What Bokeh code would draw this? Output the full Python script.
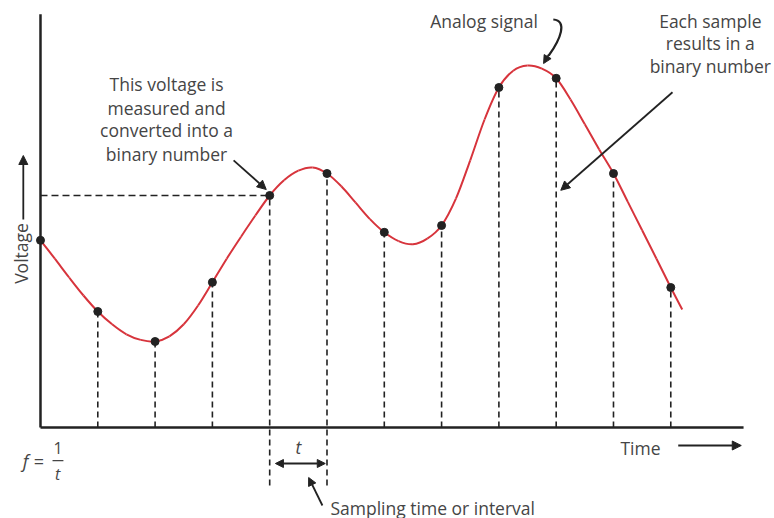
import numpy as np
from bokeh.plotting import figure
from bokeh.models import Range1d, Arrow, NormalHead
from bokeh.core.properties import value
from bokeh.embed import file_html
from bokeh.resources import INLINE

# ---- data (time in sample periods, voltage in arbitrary units) ----
sample_time = [0, 1, 2, 3, 4, 5, 6, 7, 8, 9, 10, 11]
sample_voltage = [4.68, 2.90, 2.15, 3.63, 5.80, 6.35, 4.88, 5.05, 8.50, 8.73, 6.35, 3.50]

curve_time = [0.0, 0.25, 0.5, 0.75, 1.0, 1.25, 1.5, 1.75, 2.0, 2.25, 2.5, 2.75,
              3.0, 3.25, 3.5, 3.75, 4.0, 4.25, 4.5, 4.75, 5.0, 5.25, 5.5, 5.75,
              6.0, 6.25, 6.5, 6.75, 7.0, 7.25, 7.5, 7.75, 8.0, 8.25, 8.5, 8.75,
              9.0, 9.25, 9.5, 9.75, 10.0, 10.25, 10.5, 10.75, 11.0, 11.2]
curve_voltage = [4.68, 4.22, 3.75, 3.30, 2.90, 2.58, 2.33, 2.19, 2.15, 2.28, 2.58, 3.05,
                 3.63, 4.22, 4.77, 5.30, 5.80, 6.18, 6.42, 6.50, 6.35, 6.03, 5.62, 5.21,
                 4.88, 4.66, 4.58, 4.72, 5.05, 5.72, 6.68, 7.70, 8.50, 8.92, 9.05, 8.97,
                 8.73, 8.20, 7.58, 6.95, 6.35, 5.64, 4.93, 4.22, 3.50, 2.95]

highlight_index = 4          # sample whose voltage is projected to the axis
interval_samples = [4, 5]    # samples that show the sampling interval t

INK = "#222222"
TEXT = "#454545"
RED = "#d7343c"
FONT = value("Open Sans")
FS = "17.5px"

p = figure(width=774, height=518, output_backend="svg", toolbar_location=None,
           x_range=Range1d(-0.698, 12.810), y_range=Range1d(-2.275, 10.675),
           min_border=0, outline_line_color=None, background_fill_color="white",
           border_fill_color="white")
p.axis.visible = False
p.grid.visible = False

# axes (L-shape)
p.segment(x0=[0, 0], y0=[0, 0], x1=[0, 12.27], y1=[10.33, 0],
          line_color=INK, line_width=2.5)

# dashed drop lines
bottoms = [(-1.45 if i in interval_samples else 0) for i in range(len(sample_time))]
p.segment(x0=sample_time[1:], y0=bottoms[1:], x1=sample_time[1:], y1=sample_voltage[1:],
          line_color=INK, line_width=1.6, line_dash="6 4")
# horizontal dashed projection
hv = sample_voltage[highlight_index]
p.segment(x0=[0], y0=[hv], x1=[sample_time[highlight_index]], y1=[hv],
          line_color=INK, line_width=1.6, line_dash="7 4")

# analog signal drawn as a smooth (Catmull-Rom) path through the read points
xs = np.array(curve_time, dtype=float)
ys = np.array(curve_voltage, dtype=float)
xp = np.r_[xs[0], xs[:-2]]; yp = np.r_[ys[0], ys[:-2]]
xn = np.r_[xs[2:], xs[-1]]; yn = np.r_[ys[2:], ys[-1]]
p.bezier(x0=xs[:-1], y0=ys[:-1], x1=xs[1:], y1=ys[1:],
         cx0=xs[:-1] + (xs[1:] - xp) / 6, cy0=ys[:-1] + (ys[1:] - yp) / 6,
         cx1=xs[1:] - (xn - xs[:-1]) / 6, cy1=ys[1:] - (yn - ys[:-1]) / 6,
         line_color=RED, line_width=2)
p.scatter(sample_time, sample_voltage, size=8, fill_color=INK, line_color=INK)

def arrow(x0, y0, x1, y1, size=9, width=1.8, both=False):
    head = NormalHead(size=size, fill_color=INK, line_color=INK)
    kw = dict(start=NormalHead(size=size, fill_color=INK, line_color=INK)) if both else dict(start=None)
    p.add_layout(Arrow(end=head, x_start=x0, y_start=y0, x_end=x1, y_end=y1,
                       line_color=INK, line_width=width, **kw))

def txt(x, y, s, size=FS, align="center", style="normal", angle=0, color=TEXT):
    p.text(x=[x], y=[y], text=[s], text_font=FONT, text_font_size=size,
           text_align=align, text_baseline="middle", text_color=color,
           text_font_style=style, angle=angle)

# "This voltage is measured..." annotation
for yy, s in zip([8.6, 8.0, 7.43, 6.85],
                 ["This voltage is", "measured and", "converted into a", "binary number"]):
    txt(2.2, yy, s)
arrow(3.37, 6.68, 3.94, 5.95)

# Analog signal
txt(7.74, 10.17, "Analog signal")
p.bezier(x0=[8.95], y0=[10.2], x1=[8.87], y1=[9.3], cx0=[9.2], cy0=[10.17],
         cx1=[9.08], cy1=[9.72], line_color=INK, line_width=2.2)
arrow(8.87, 9.32, 8.78, 9.1, size=8, width=2)

# Each sample results in a binary number
for yy, s in zip([10.17, 9.62, 9.05], ["Each sample", "results in a", "binary number"]):
    txt(11.69, yy, s)
arrow(11.03, 8.38, 9.08, 5.93)

# Voltage label
txt(-0.335, 4.35, "Voltage", angle=1.5708)
arrow(-0.30, 5.2, -0.30, 6.8)

# Time label
txt(10.47, -0.5, "Time")
arrow(11.13, -0.45, 12.23, -0.45)

# sampling interval
txt(4.5, -0.48, "t", style="italic")
arrow(4.1, -0.9, 4.97, -0.9, size=8, width=1.8, both=True)
arrow(4.92, -1.95, 4.68, -1.25, size=8, width=1.8)
txt(5.06, -2.0, "Sampling time or interval", align="left")

# f = 1/t
txt(-0.26, -0.83, "f", size="18px", style="italic")
txt(-0.03, -0.83, "=", size="18px")
txt(0.305, -0.5, "1", size="16px")
p.segment(x0=[0.21], y0=[-0.83], x1=[0.40], y1=[-0.83], line_color=TEXT, line_width=1.3)
txt(0.30, -1.15, "t", size="16px", style="italic")

open("out.html", "w").write(file_html(p, INLINE))
